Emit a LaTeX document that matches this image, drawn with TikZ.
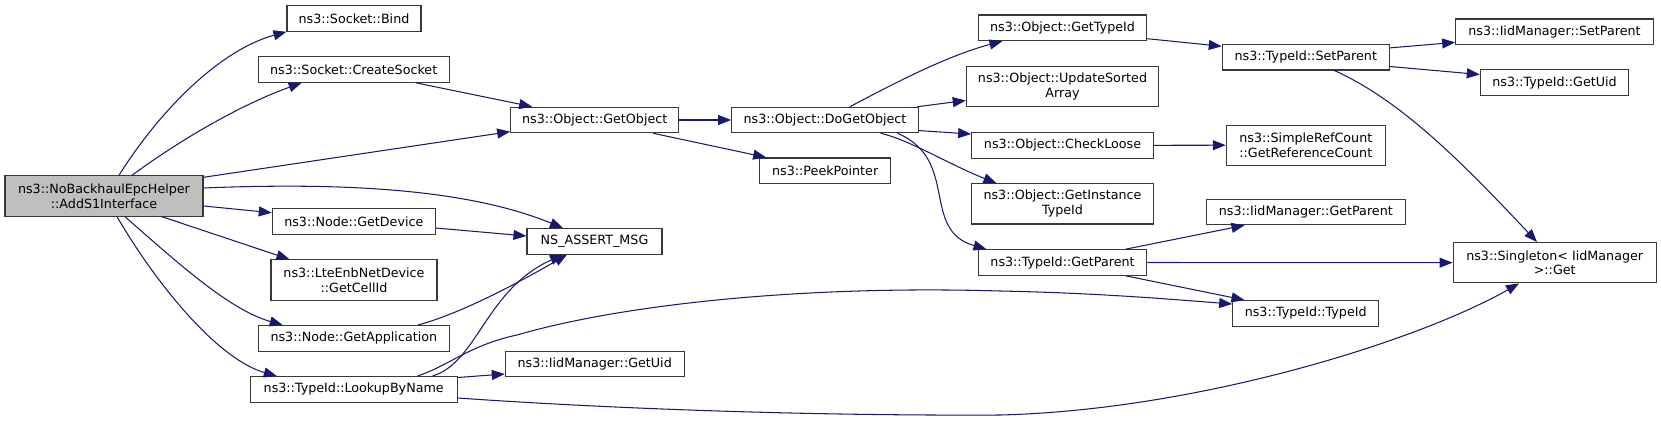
\documentclass[tikz,border=0pt]{standalone}
\usepackage{fontspec}
\setmainfont{DejaVu Sans}
\usetikzlibrary{arrows.meta}
\definecolor{edgeblue}{RGB}{25,25,112}
\definecolor{boxline}{RGB}{56,56,56}
\definecolor{rootfill}{RGB}{191,191,191}
\begin{document}
\begin{tikzpicture}[x=1pt,y=-1pt,
  box/.style={draw=boxline, line width=1.1pt, inner sep=0pt, minimum height=25.5pt, align=center, font=\fontsize{12.7}{14.7}\selectfont},
  boxtwo/.style={box, minimum height=40.3pt},
  edge/.style={draw=edgeblue, line width=1.05pt, -{Triangle[length=13pt,width=10pt]}}]
\useasboundingbox (0,0) rectangle (1661,420);

% nodes
\node[boxtwo, fill=rootfill, minimum width=198pt] (root) at (104,196) {ns3::NoBackhaulEpcHelper\\::AddS1Interface};
\node[box, minimum width=134pt] (bind) at (354,18.5) {ns3::Socket::Bind};
\node[box, minimum width=191pt] (create) at (353.7,69.5) {ns3::Socket::CreateSocket};
\node[box, minimum width=163pt] (getdev) at (353.8,221.3) {ns3::Node::GetDevice};
\node[boxtwo, minimum width=166pt] (lte) at (354,280) {ns3::LteEnbNetDevice\\::GetCellId};
\node[box, minimum width=191pt] (getapp) at (353.8,338.3) {ns3::Node::GetApplication};
\node[box, minimum width=206.7pt] (lookup) at (353.7,389.3) {ns3::TypeId::LookupByName};
\node[box, minimum width=168pt] (getobj) at (594.7,120) {ns3::Object::GetObject};
\node[box, minimum width=135pt] (assert) at (594.5,241.3) {NS\_ASSERT\_MSG};
\node[box, minimum width=178.7pt] (iiduid) at (594.7,363.8) {ns3::IidManager::GetUid};
\node[box, minimum width=186.7pt] (dogetobj) at (825,120) {ns3::Object::DoGetObject};
\node[box, minimum width=131pt] (peek) at (825.2,170.7) {ns3::PeekPointer};
\node[box, minimum width=168.4pt] (gettypeid) at (1062.5,27.8) {ns3::Object::GetTypeId};
\node[boxtwo, minimum width=192.4pt] (update) at (1062.5,86.5) {ns3::Object::UpdateSorted\\Array};
\node[box, minimum width=181.6pt] (check) at (1062.5,145.3) {ns3::Object::CheckLoose};
\node[boxtwo, minimum width=181.6pt] (instance) at (1062.5,203.8) {ns3::Object::GetInstance\\TypeId};
\node[box, minimum width=168.4pt] (getparent) at (1062.5,262.5) {ns3::TypeId::GetParent};
\node[box, minimum width=167pt] (setparent) at (1305.8,57.2) {ns3::TypeId::SetParent};
\node[boxtwo, minimum width=159pt] (simpleref) at (1305.8,145.2) {ns3::SimpleRefCount\\::GetReferenceCount};
\node[box, minimum width=199pt] (iidparent) at (1305.8,212) {ns3::IidManager::GetParent};
\node[box, minimum width=146pt] (typeidc) at (1305.7,313.3) {ns3::TypeId::TypeId};
\node[box, minimum width=197.6pt] (iidsetparent) at (1554.5,31.8) {ns3::IidManager::SetParent};
\node[box, minimum width=148.4pt] (typeiduid) at (1554.5,82.5) {ns3::TypeId::GetUid};
\node[boxtwo, minimum width=203.3pt] (singleton) at (1554.7,262.7) {ns3::Singleton< IidManager\\>::Get};

% edges from root
\draw[edge] ([xshift=15pt]root.north) .. controls (160,110) and (220,50) .. (bind.south west);
\draw[edge] ([xshift=28pt]root.north) .. controls (180,140) and (240,105) .. ([xshift=44pt]create.south west);
\draw[edge] ([yshift=-2pt]root.north east) -- ([yshift=1.7pt]getobj.south west);
\draw[edge] ([yshift=8pt]root.east) .. controls (350,182) and (470,190) .. ([xshift=-31.5pt]assert.north);
\draw[edge] ([yshift=-10pt]root.east) -- ([yshift=8.6pt]getdev.west);
\draw[edge] ([xshift=58pt]root.south) -- ([xshift=19pt]lte.north west);
\draw[edge] ([xshift=21pt]root.south) .. controls (180,265) and (230,310) .. ([xshift=25pt]getapp.north west);
\draw[edge] ([xshift=13pt]root.south) .. controls (160,290) and (220,360) .. ([xshift=27pt]lookup.north west);

% second column
\draw[edge] ([xshift=-34pt]create.south east) -- ([xshift=22pt]getobj.north west);
\draw[edge] (getobj.east) -- (dogetobj.west);
\draw[edge] ([xshift=-26pt]getobj.south east) -- ([xshift=7pt]peek.north west);
\draw[edge] ([yshift=-6.7pt]getdev.east) -- ([yshift=5.3pt]assert.west);
\draw[edge] ([xshift=-32pt]getapp.north east) .. controls (460,314) and (520,282) .. ([xshift=-27.5pt]assert.south);
\draw[edge] ([xshift=-25pt]lookup.north east) .. controls (478,362) and (485,290) .. ([xshift=-31.5pt]assert.south);
\draw[edge] ([yshift=-1.5pt]lookup.north east) -- ([yshift=-10.2pt]iiduid.west);
\draw[edge] ([xshift=-40pt]lookup.north east) .. controls (450,365) and (470,345) .. (517,335)
  .. controls (620,305) and (800,285) .. (1000,291)
  .. controls (1100,293) and (1180,300) .. ([yshift=9.3pt]typeidc.west);
\draw[edge] ([yshift=-8.7pt]lookup.east) .. controls (600,408) and (800,416) .. (1000,415)
  .. controls (1200,410) and (1420,340) .. ([xshift=-35.7pt]singleton.south);

% DoGetObject
\draw[edge] ([xshift=25pt]dogetobj.north) .. controls (900,80) and (950,55) .. ([xshift=24.7pt]gettypeid.south west);
\draw[edge] ([xshift=-1.6pt]dogetobj.north east) -- ([yshift=6.7pt]update.south west);
\draw[edge] ([yshift=2.7pt]dogetobj.south east) -- ([yshift=-2pt]check.north west);
\draw[edge] ([xshift=-38.3pt]dogetobj.south east) .. controls (910,140) and (950,165) .. ([xshift=25.3pt]instance.north west);
\draw[edge] ([xshift=-21.3pt]dogetobj.south east) .. controls (960,160) and (920,230) .. ([xshift=8.7pt]getparent.north west);

% third column
\draw[edge] ([yshift=2.4pt]gettypeid.south east) -- ([yshift=-2.4pt]setparent.north west);
\draw[edge] (check.east) -- (simpleref.west);
\draw[edge] ([xshift=-21.7pt]getparent.north east) -- ([xshift=38.7pt]iidparent.south west);
\draw[edge] (getparent.east) -- (singleton.west);
\draw[edge] ([xshift=-21.7pt]getparent.south east) -- ([xshift=12.3pt]typeidc.north west);

% SetParent
\draw[edge] ([yshift=-4pt]setparent.north east) -- ([yshift=2.7pt]iidsetparent.south west);
\draw[edge] ([yshift=4pt]setparent.south east) -- ([yshift=-5.3pt]typeiduid.north west);
\draw[edge] ([xshift=28.5pt]setparent.south) .. controls (1400,100) and (1460,160) .. ([xshift=-17.7pt]singleton.north);
\end{tikzpicture}
\end{document}
